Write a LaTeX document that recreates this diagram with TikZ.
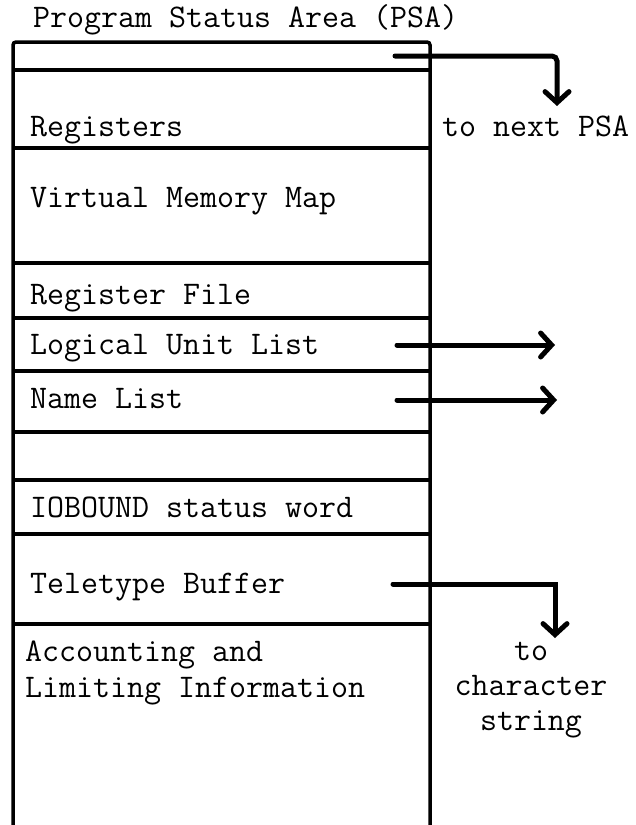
\documentclass[tikz,border=0pt]{standalone}
\usepackage{fontspec}
\usetikzlibrary{arrows.meta}
\newcommand{\twfont}{\ttfamily\fontsize{33}{41}\selectfont\addfontfeature{FakeBold=0.7}}
\begin{document}
\begin{tikzpicture}[x=1pt,y=-1pt,
  lbl/.style={anchor=mid west,inner sep=0pt,font=\twfont},
  frame/.style={line width=3.5pt},
  ptr/.style={line width=5pt,line cap=round,-{Straight Barb[length=11pt,width=24pt,line cap=round]}}]
\useasboundingbox (0,0) rectangle (635,825);
% frame
\draw[frame,rounded corners=3pt] (13,825) -- (13,42) -- (430,42) -- (430,825);
\foreach \yy in {70,148,263,318,371,432,480,534,624}
  \draw[frame] (13,\yy) -- (430,\yy);
% labels
\node[lbl] (title) at (33,25) {Program Status Area (PSA)};
\node[lbl] (reg) at (30,134) {Registers};
\node[lbl] (vmm) at (30,205) {Virtual Memory Map};
\node[lbl] (rf) at (30,302) {Register File};
\node[lbl] (lul) at (30,352) {Logical Unit List};
\node[lbl] (nl) at (30,406) {Name List};
\node[lbl] (io) at (30,515) {IOBOUND status word};
\node[lbl] (tb) at (30,591) {Teletype Buffer};
\node[lbl] (acc) at (25,659) {Accounting and};
\node[lbl] (lim) at (25,695) {Limiting Information};
\node[lbl] (next) at (442,134) {to next PSA};
\node[inner sep=0pt,align=center,font=\twfont\linespread{0.85}\selectfont] (chr) at (531,690) {to\\character\\string};
% pointer coordinates
\coordinate (p0) at (395,56);
\coordinate (p0e) at (557,106);
\coordinate (p1) at (397,345);
\coordinate (p1e) at (555,345);
\coordinate (p2) at (397,400);
\coordinate (p2e) at (557,400);
\coordinate (p3) at (393,584);
\coordinate (p3e) at (555,638);
% pointers
\draw[ptr,rounded corners=5pt] (p0) -| (p0e);
\draw[ptr] (p1) -- (p1e);
\draw[ptr] (p2) -- (p2e);
\draw[ptr] (p3) -| (p3e);
\end{tikzpicture}
\end{document}
